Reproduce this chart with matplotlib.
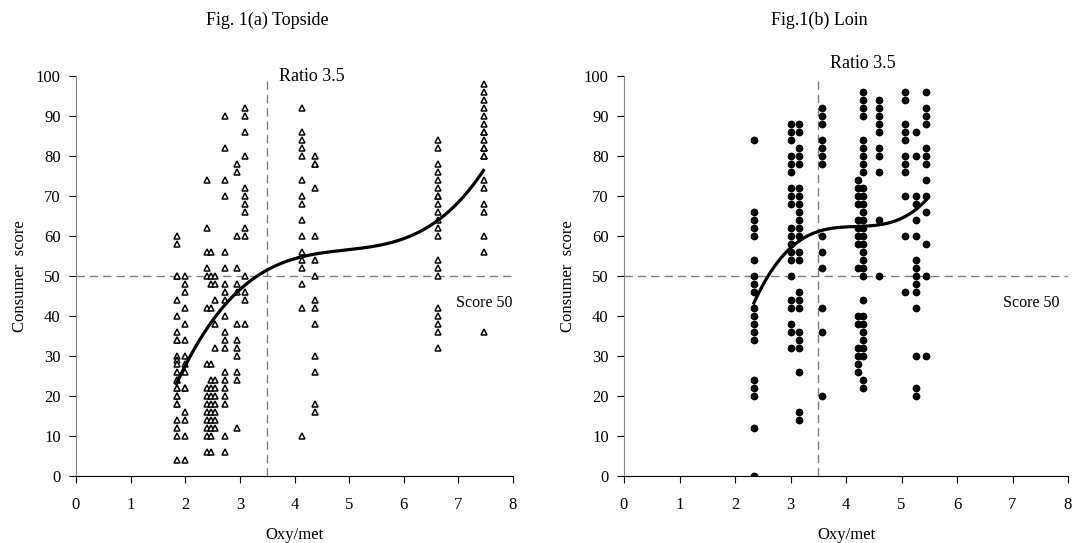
import numpy as np
import matplotlib.pyplot as plt

plt.rcParams['font.family'] = ['Liberation Serif', 'DejaVu Serif']

# Fig. 1(a) Topside: oxy/met column positions and the consumer scores in each
topside_x = [1.84, 2.00, 2.40, 2.47, 2.54, 2.73, 2.94, 3.09, 4.13, 4.37, 6.63, 7.46]
topside_scores = [
    [60, 58, 50, 50, 44, 40, 36, 34, 34, 30, 29, 28, 26, 24, 24, 22, 22, 20, 20, 18, 18,
     14, 12, 10, 4],
    [50, 48, 46, 42, 38, 34, 30, 28, 26, 22, 22, 16, 14, 10, 4],
    [74, 62, 56, 52, 50, 42, 28, 22, 20, 18, 16, 14, 12, 10, 6],
    [56, 50, 48, 42, 28, 24, 22, 20, 18, 16, 14, 12, 10, 6],
    [50, 48, 44, 38, 32, 24, 22, 20, 18, 16, 14, 12],
    [90, 82, 74, 70, 56, 52, 48, 46, 44, 40, 36, 34, 32, 26, 24, 22, 20, 18, 10, 6],
    [78, 76, 60, 52, 48, 46, 38, 34, 32, 30, 26, 24, 12],
    [92, 90, 86, 80, 72, 70, 68, 66, 62, 60, 50, 46, 44, 38],
    [92, 86, 84, 82, 80, 74, 70, 68, 64, 60, 56, 54, 52, 48, 42, 10],
    [80, 78, 78, 72, 60, 54, 50, 44, 42, 38, 30, 26, 18, 16],
    [84, 82, 78, 76, 74, 72, 70, 70, 68, 66, 64, 62, 60, 54, 52, 50, 42, 40, 38, 36, 32],
    [98, 96, 94, 92, 90, 88, 86, 86, 84, 82, 82, 80, 80, 74, 72, 68, 66, 60, 56, 36],
]

# Fig. 1(b) Loin
loin_x = [2.34, 3.00, 3.15, 3.57, 4.21, 4.30, 4.60, 5.06, 5.26, 5.44]
loin_scores = [
    [84, 66, 64, 62, 60, 54, 50, 48, 46, 42, 40, 38, 36, 34, 24, 22, 20, 12, 0],
    [88, 86, 84, 80, 78, 76, 72, 70, 68, 62, 60, 58, 56, 54, 50, 44, 42, 38, 36, 32],
    [88, 86, 82, 80, 78, 72, 70, 68, 66, 64, 62, 60, 56, 54, 46, 44, 42, 36, 34, 32, 26, 16, 14],
    [92, 90, 88, 84, 82, 80, 78, 60, 56, 52, 42, 36, 20],
    [74, 72, 70, 68, 64, 62, 60, 58, 52, 40, 38, 32, 30, 28, 26],
    [96, 94, 92, 90, 84, 82, 80, 78, 76, 72, 70, 68, 66, 64, 62, 60, 58, 56, 54, 52, 50,
     44, 40, 38, 36, 34, 32, 30, 24, 22],
    [94, 92, 90, 88, 86, 82, 80, 76, 64, 50],
    [96, 94, 88, 86, 84, 80, 78, 76, 70, 60, 46],
    [86, 80, 70, 68, 64, 60, 54, 52, 50, 48, 46, 42, 30, 22, 20],
    [96, 92, 90, 88, 82, 80, 78, 74, 70, 66, 58, 50, 30],
]

ratio_line = 3.5
score_line = 50
x_ticks = list(range(0, 9))
y_ticks = list(range(0, 101, 10))


def flatten(xs, scores):
    px, py = [], []
    for x, col in zip(xs, scores):
        px += [x] * len(col)
        py += col
    return np.array(px), np.array(py, dtype=float)


def draw_panel(ax, xs, scores, marker, title, title_x, ratio_y, score_x):
    px, py = flatten(xs, scores)
    if marker == '^':
        ax.plot(px, py, '^', ms=4.8, mfc='white', mec='black', mew=1.1, zorder=3)
    else:
        ax.plot(px, py, 'o', ms=4.6, mfc='black', mec='black', zorder=3)

    # 3rd order polynomial trend line over the data range
    coef = np.polyfit(px, py, 3)
    xx = np.linspace(px.min(), px.max(), 200)
    ax.plot(xx, np.polyval(coef, xx), color='black', lw=2.3, zorder=4)

    ax.plot([ratio_line, ratio_line], [0, 100], color='#7f7f7f', lw=1,
            dashes=(6, 3.6), zorder=2)
    ax.plot([0, 8], [score_line, score_line], color='#7f7f7f', lw=1,
            dashes=(6, 3.6), zorder=2)
    ax.text(3.72, ratio_y, 'Ratio 3.5', fontsize=13, va='center', ha='left')
    ax.text(score_x, 43.2, 'Score 50', fontsize=11.5, va='center', ha='right')

    ax.set_xlim(0, 8)
    ax.set_ylim(0, 100)
    ax.set_xticks(x_ticks)
    ax.set_yticks(y_ticks)
    ax.tick_params(axis='x', direction='out', length=5, pad=10, labelsize=12)
    ax.tick_params(axis='y', direction='out', length=5, pad=6, labelsize=12)
    for s in ['top', 'right']:
        ax.spines[s].set_visible(False)
    ax.spines['left'].set_color('#808080')
    ax.spines['bottom'].set_color('black')
    ax.set_xlabel('Oxy/met', fontsize=12, labelpad=10)
    ax.set_ylabel('Consumer  score', fontsize=12, labelpad=6)
    # titles sit well above the plot area
    ax.text(title_x, 1.14, title, transform=ax.transAxes,
            fontsize=13, ha='center', va='center')


fig = plt.figure(figsize=(10.73, 5.43), dpi=100)
ax1 = fig.add_axes([76 / 1073, 67 / 543, 437 / 1073, 400 / 543])
ax2 = fig.add_axes([624 / 1073, 67 / 543, 444 / 1073, 400 / 543])

draw_panel(ax1, topside_x, topside_scores, '^', 'Fig. 1(a) Topside', 0.437, 99.8, 8.0)
draw_panel(ax2, loin_x, loin_scores, 'o', 'Fig.1(b) Loin', 0.441, 103.2, 7.85)

fig.savefig('out.png', dpi=100)
